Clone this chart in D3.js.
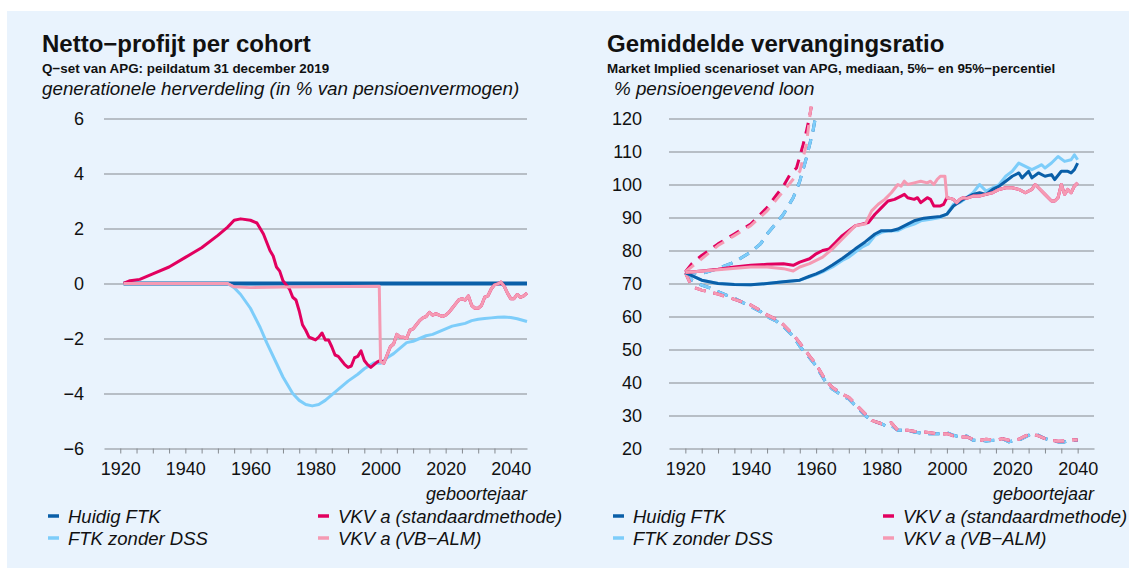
<!DOCTYPE html>
<html>
<head>
<meta charset="utf-8">
<script src="https://cdn.jsdelivr.net/npm/d3@7"></script>
<style>
  body { margin: 0; background: #fff; }
  svg { display: block; font-family: "Liberation Sans", Arial, sans-serif; }
</style>
</head>
<body>
<script>
// ---- data ----
const xTicks = [1920, 1940, 1960, 1980, 2000, 2020, 2040];
const leftYTicks = [-6, -4, -2, 0, 2, 4, 6];
const rightYTicks = [20, 30, 40, 50, 60, 70, 80, 90, 100, 110, 120];

// left: netto-profijt per cohort
const lHuidig = [[1921, 0], [2045, 0]];
const lZonderDss = [
  [1921, 0], [1953, 0], [1955, -0.15], [1957, -0.4], [1960, -0.9], [1963, -1.6], [1965, -2.15],
  [1968, -2.9], [1970, -3.4], [1973, -4.0], [1975, -4.25], [1977, -4.4], [1979, -4.45], [1981, -4.4],
  [1983, -4.25], [1985, -4.05], [1987, -3.85], [1990, -3.55], [1993, -3.3], [1995, -3.1], [1998, -2.88],
  [2000, -2.9], [2002, -2.7], [2004, -2.55], [2006, -2.35], [2008, -2.15], [2010, -2.1], [2012, -2.0],
  [2014, -1.9], [2016, -1.85], [2018, -1.75], [2020, -1.65], [2022, -1.55], [2024, -1.5], [2026, -1.45],
  [2028, -1.35], [2030, -1.3], [2032, -1.27], [2034, -1.25], [2036, -1.23], [2038, -1.22], [2040, -1.24],
  [2042, -1.28], [2045, -1.38]
];
const lTail = [
  [2001, -2.9], [2002, -2.6], [2003, -2.3], [2004, -2.2], [2005, -1.85], [2006, -1.95], [2007, -1.95],
  [2008, -2.0], [2009, -1.7], [2010, -1.65], [2011, -1.5], [2012, -1.35], [2013, -1.25], [2014, -1.2],
  [2015, -1.05], [2016, -1.15], [2017, -1.1], [2018, -1.15], [2019, -1.2], [2020, -1.15], [2021, -1.05],
  [2022, -0.9], [2023, -0.75], [2024, -0.6], [2025, -0.55], [2026, -0.6], [2027, -0.45], [2028, -0.8],
  [2029, -0.9], [2030, -0.9], [2031, -0.8], [2032, -0.5], [2033, -0.45], [2034, -0.2], [2035, -0.05],
  [2036, -0.02], [2037, 0.05], [2038, -0.1], [2039, -0.35], [2040, -0.55], [2041, -0.55], [2042, -0.4],
  [2043, -0.5], [2044, -0.45], [2045, -0.35]
];
const lVkvStd = [
  [1921, 0], [1923, 0.1], [1926, 0.15], [1930, 0.35], [1935, 0.6], [1940, 0.95], [1945, 1.3], [1950, 1.75],
  [1953, 2.05], [1955, 2.3], [1957, 2.35], [1960, 2.3], [1962, 2.2], [1963, 2.0], [1964, 1.8], [1965, 1.5],
  [1966, 1.2], [1967, 1.0], [1968, 0.6], [1969, 0.45], [1970, 0.1], [1971, -0.05], [1972, -0.2], [1973, -0.5],
  [1974, -0.6], [1975, -1.0], [1976, -1.5], [1977, -1.7], [1978, -1.95], [1979, -2.0], [1980, -2.05],
  [1981, -1.95], [1982, -1.8], [1983, -2.05], [1984, -2.05], [1985, -2.3], [1986, -2.6], [1987, -2.65],
  [1988, -2.8], [1989, -2.95], [1990, -3.05], [1991, -3.0], [1992, -2.7], [1993, -2.65], [1994, -2.45],
  [1995, -2.8], [1996, -2.95], [1997, -3.05], [1998, -2.95], [1999, -2.85], [2000, -2.8]
].concat(lTail);
const lVkvAlm = [
  [1921, 0], [1953, 0], [1955, -0.12], [1960, -0.15], [1970, -0.13], [1980, -0.12], [1999.6, -0.1],
  [2000, -2.85]
].concat(lTail);

// right: gemiddelde vervangingsratio, medians
const rHuidig = [
  [1920, 73.3], [1925, 71], [1930, 70], [1935, 69.7], [1940, 69.6], [1945, 70], [1950, 70.5], [1955, 71],
  [1958, 72.2], [1960, 72.9], [1962, 73.8], [1965, 75.6], [1968, 77.6], [1970, 79], [1972, 80.5],
  [1975, 82.6], [1978, 85], [1980, 86], [1983, 86], [1985, 86.5], [1988, 88], [1990, 89], [1993, 89.8],
  [1995, 90], [1998, 90.3], [2000, 91], [2002, 93.5], [2005, 95.5], [2008, 97], [2010, 97.5], [2012, 97],
  [2014, 98.5], [2016, 99.5], [2018, 101], [2020, 102.5], [2022, 103.5], [2023, 102], [2025, 104],
  [2026, 102], [2028, 103.5], [2030, 102.5], [2032, 103], [2033, 101.5], [2035, 104], [2037, 104],
  [2038, 103.5], [2039, 104.5], [2040, 106.5]
];
const rZonderDss = [
  [1920, 73.3], [1925, 71], [1930, 70], [1935, 69.7], [1940, 69.6], [1945, 70], [1950, 70.5], [1955, 71],
  [1958, 72], [1960, 72.7], [1962, 73.5], [1965, 75], [1968, 77], [1970, 78], [1972, 79.5], [1974, 81],
  [1976, 82], [1978, 84.5], [1980, 85.5], [1982, 86], [1985, 86], [1987, 87], [1990, 88], [1992, 89],
  [1995, 89.5], [1998, 90], [2000, 91], [2002, 94], [2004, 94.5], [2006, 96], [2008, 97.5], [2010, 100],
  [2012, 98], [2014, 99], [2016, 100], [2018, 102.5], [2020, 104], [2022, 106.5], [2024, 105.5],
  [2026, 104.5], [2028, 105.5], [2029, 106], [2030, 105], [2032, 106.5], [2034, 108.5], [2036, 107],
  [2038, 107.5], [2039, 109], [2040, 107.5]
];
const rTail = [
  [2001, 95.8], [2002, 95.5], [2003, 94.5], [2004, 95.5], [2005, 96], [2006, 95.8], [2008, 96.5],
  [2010, 96.5], [2012, 97], [2014, 97.5], [2016, 98.5], [2018, 99], [2020, 99], [2022, 98.5], [2024, 97.5],
  [2026, 98.5], [2027, 100], [2028, 99], [2030, 97], [2032, 95], [2033, 95], [2034, 96], [2035, 100],
  [2036, 97], [2037, 98.5], [2038, 97.5], [2039, 99.5], [2040, 100.5]
];
const rVkvStd = [
  [1920, 73.3], [1925, 73.8], [1930, 74.3], [1935, 75], [1940, 75.5], [1945, 75.8], [1950, 76], [1953, 75.5],
  [1955, 76.5], [1958, 77.5], [1960, 79], [1962, 80], [1964, 80.5], [1966, 82.5], [1968, 84.5], [1970, 86],
  [1972, 87.5], [1974, 88], [1976, 88.5], [1978, 91], [1980, 93], [1982, 95], [1984, 95.5], [1986, 96.5],
  [1987, 97], [1988, 96], [1990, 95.5], [1991, 96], [1992, 94.5], [1994, 96], [1995, 95.5], [1996, 93.5],
  [1998, 93.5], [1999, 94], [2000, 96]
].concat(rTail);
const rVkvAlm = [
  [1920, 73.3], [1930, 74.2], [1940, 75], [1945, 75], [1950, 74.5], [1953, 73.8], [1955, 75], [1958, 76],
  [1960, 77], [1962, 78], [1965, 80.5], [1968, 83.5], [1970, 85.5], [1972, 87.5], [1975, 88], [1977, 92],
  [1979, 94], [1981, 95.5], [1983, 97.5], [1985, 100], [1986, 99.5], [1987, 101], [1988, 100], [1990, 100.5],
  [1992, 101], [1994, 100.5], [1995, 101], [1996, 100], [1997, 101.5], [1998, 102.5], [1999.4, 102.5],
  [2000, 96]
].concat(rTail);

// right: 95%-percentiel
const rUpperFtk = [
  [1920, 73.5], [1925, 73], [1930, 74.5], [1935, 76.5], [1940, 79.5], [1943, 82], [1945, 85], [1948, 88.5],
  [1950, 91], [1953, 96], [1955, 101], [1957, 108], [1959, 116], [1960, 121.5]
];
const rUpperStd = [
  [1920, 73.5], [1922, 76], [1925, 78.5], [1930, 82], [1935, 85], [1940, 88], [1942, 90], [1945, 93],
  [1948, 97], [1950, 99.5], [1952, 103], [1954, 105], [1956, 112], [1957, 116], [1958, 120.5], [1958.5, 123.5]
];
const rUpperAlm = [
  [1920, 73.5], [1925, 77.5], [1930, 81.5], [1935, 84.5], [1940, 87.5], [1945, 92], [1950, 98], [1955, 104],
  [1957, 112], [1958, 120], [1958.5, 124]
];
// right: 5%-percentiel
const rLowerFtk = [
  [1920, 73.3], [1922, 71], [1925, 69.5], [1928, 68.5], [1930, 67.5], [1935, 65.5], [1940, 63], [1943, 61.5],
  [1945, 60], [1948, 58.5], [1950, 57], [1953, 54], [1955, 51], [1958, 47.5], [1960, 45], [1963, 40], [1965, 38],
  [1968, 36], [1970, 35], [1972, 33], [1975, 30], [1977, 28.5], [1980, 27.5], [1982, 26.5], [1983, 27],
  [1985, 25.5], [1988, 25.5], [1990, 25], [1993, 24.5], [1995, 24.5], [1998, 24.5], [2000, 24.8], [2002, 24],
  [2004, 23.5], [2006, 23.8], [2008, 22.5], [2010, 22.5], [2012, 22.3], [2015, 22.5], [2017, 23], [2019, 22],
  [2020, 22.3], [2022, 22.5], [2024, 23.5], [2026, 24.5], [2028, 24], [2030, 23], [2032, 22.5], [2034, 22],
  [2036, 22], [2038, 22.5], [2040, 22.5]
];
const rLowerVkv = [
  [1920, 73.3], [1922, 69], [1925, 68], [1930, 66.8], [1935, 65.2], [1940, 63.5], [1943, 61.8], [1945, 60.5],
  [1948, 59], [1950, 57.5], [1953, 54.5], [1955, 52], [1958, 48], [1960, 45.5], [1963, 40.5], [1965, 38.5],
  [1968, 36.5], [1970, 35.5], [1972, 33.5], [1975, 30.5], [1977, 28.5], [1980, 27.5], [1982, 27.5], [1983, 27.8],
  [1985, 25.5], [1988, 25.5], [1990, 25.2], [1993, 25], [1995, 24.8], [1998, 24.3], [2000, 24.5], [2002, 23.8],
  [2004, 23.5], [2006, 23.5], [2008, 22.8], [2010, 22.5], [2012, 22.8], [2015, 22.5], [2017, 23], [2019, 22.5],
  [2020, 22.5], [2022, 22.8], [2024, 23.8], [2026, 24.5], [2028, 23.8], [2030, 23], [2032, 22.5], [2034, 22.2],
  [2036, 22.3], [2038, 22.7], [2040, 22.6]
];

const COLORS = { huidig: '#0a5fa8', zonder: '#7dcdfa', std: '#e2005f', alm: '#f59ab3' };
const legendItems = [
  { label: 'Huidig FTK', color: COLORS.huidig, col: 0, row: 0 },
  { label: 'FTK zonder DSS', color: COLORS.zonder, col: 0, row: 1 },
  { label: 'VKV a (standaardmethode)', color: COLORS.std, col: 1, row: 0 },
  { label: 'VKV a (VB\u2212ALM)', color: COLORS.alm, col: 1, row: 1 }
];

const W = 1129, H = 568;
const svg = d3.select('body').append('svg').attr('width', W).attr('height', H);
svg.append('rect').attr('x', 7).attr('y', 11).attr('width', W - 7).attr('height', H - 11).attr('fill', '#e9f3fd');

function panel(o) {
  const g = svg.append('g');
  const x = d3.scaleLinear().domain([1915, 2045]).range([o.x0, o.x1]);
  const y = d3.scaleLinear().domain(o.yDomain).range([448.5, 118.5]);

  // titles
  g.append('text').attr('x', o.tx).attr('y', 52).attr('font-size', '24px').attr('font-weight', 'bold')
    .attr('fill', '#111').text(o.title);
  g.append('text').attr('x', o.tx).attr('y', 73).attr('font-size', '13.4px').attr('font-weight', 'bold')
    .attr('fill', '#111').text(o.sub);
  g.append('text').attr('x', o.ux).attr('y', 95).attr('font-size', '18.8px').attr('font-style', 'italic')
    .attr('fill', '#111').text(o.unit);

  // grid + y labels
  g.append('g').attr('transform', `translate(${o.x0},0)`)
    .call(d3.axisLeft(y).tickValues(o.yTicks).tickSize(-(o.x1 - o.x0)).tickFormat(o.fmt))
    .call(a => a.select('.domain').remove())
    .call(a => a.selectAll('.tick line').attr('stroke', '#858a90').attr('stroke-width', 1.1)
      .attr('opacity', d => d === o.yDomain[0] ? 0 : 1))
    .call(a => a.selectAll('.tick text').attr('x', o.labelX - o.x0).attr('fill', '#111')
      .attr('font-size', '18px').attr('font-family', '"Liberation Sans", Arial, sans-serif'));

  // x axis
  g.append('g').attr('transform', 'translate(0,448.5)')
    .call(d3.axisBottom(x).tickValues(d3.range(1920, 2045, 5)).tickSize(5).tickSizeOuter(0)
      .tickFormat(d => xTicks.includes(d) ? d : ''))
    .call(a => a.select('.domain').attr('stroke', '#858a90').attr('stroke-width', 1.1))
    .call(a => a.selectAll('.tick line').attr('stroke', '#858a90'))
    .call(a => a.selectAll('.tick text').attr('fill', '#111').attr('dy', '1.05em')
      .attr('font-size', '18px').attr('font-family', '"Liberation Sans", Arial, sans-serif'));

  g.append('text').attr('x', o.x1).attr('y', 500).attr('text-anchor', 'end').attr('font-size', '18px')
    .attr('font-style', 'italic').attr('fill', '#111').text('geboortejaar');

  // lines
  const line = d3.line().x(d => x(d[0])).y(d => y(d[1]));
  o.series.forEach(s => {
    g.append('path').datum(s.data).attr('fill', 'none').attr('stroke', s.color)
      .attr('stroke-width', s.w || 3).attr('stroke-linejoin', 'round')
      .attr('stroke-dasharray', s.dash ? '11,8' : null).attr('d', line);
  });

  // legend
  legendItems.forEach(it => {
    const lx = o.legX[it.col], ly = 516 + it.row * 22;
    g.append('line').attr('x1', lx).attr('x2', lx + 11).attr('y1', ly).attr('y2', ly)
      .attr('stroke', it.color).attr('stroke-width', 3.5);
    g.append('text').attr('x', lx + 20).attr('y', ly + 6.5).attr('font-size', '18.5px').attr('font-style', 'italic')
      .attr('fill', '#111').text(it.label);
  });
}

panel({
  x0: 104, x1: 527, yDomain: [-6, 6], yTicks: leftYTicks, labelX: 84,
  fmt: d => d < 0 ? '\u2212' + Math.abs(d) : d,
  tx: 42, ux: 42,
  title: 'Netto\u2212profijt per cohort',
  sub: 'Q\u2212set van APG: peildatum 31 december 2019',
  unit: 'generationele herverdeling (in % van pensioenvermogen)',
  legX: [48, 318],
  series: [
    { data: lHuidig, color: COLORS.huidig, w: 4 },
    { data: lZonderDss, color: COLORS.zonder },
    { data: lVkvStd, color: COLORS.std },
    { data: lVkvAlm, color: COLORS.alm }
  ]
});

panel({
  x0: 669, x1: 1094, yDomain: [20, 120], yTicks: rightYTicks, labelX: 642,
  fmt: d => d,
  tx: 607, ux: 614,
  title: 'Gemiddelde vervangingsratio',
  sub: 'Market Implied scenarioset van APG, mediaan, 5%\u2212 en 95%\u2212percentiel',
  unit: '% pensioengevend loon',
  legX: [613, 883],
  series: [
    { data: rUpperFtk, color: COLORS.huidig, dash: true },
    { data: rUpperFtk, color: COLORS.zonder, dash: true },
    { data: rUpperStd, color: COLORS.std, dash: true },
    { data: rUpperAlm, color: COLORS.alm, dash: true },
    { data: rLowerFtk, color: COLORS.huidig, dash: true },
    { data: rLowerFtk, color: COLORS.zonder, dash: true },
    { data: rLowerVkv, color: COLORS.std, dash: true },
    { data: rLowerVkv, color: COLORS.alm, dash: true },
    { data: rZonderDss, color: COLORS.zonder },
    { data: rHuidig, color: COLORS.huidig },
    { data: rVkvStd, color: COLORS.std },
    { data: rVkvAlm, color: COLORS.alm }
  ]
});
</script>
</body>
</html>
